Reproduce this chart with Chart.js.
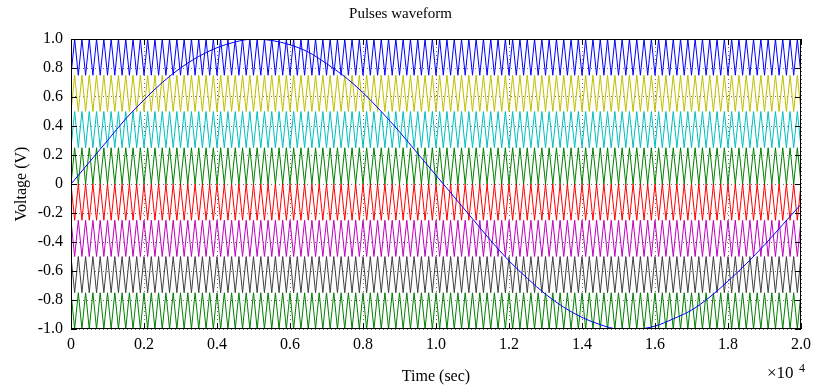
<!DOCTYPE html>
<html>
<head>
<meta charset="utf-8">
<script src="https://cdn.jsdelivr.net/npm/chart.js@4.4.0/dist/chart.umd.min.js"></script>
<style>
  html,body{margin:0;padding:0;background:#fff;}
  #grafico{display:block;}
</style>
</head>
<body>
<canvas id="grafico" width="813" height="388"></canvas>
<script>
// tiempos de la señal de referencia (muestras) y su valor
const sineTimes=[0,500,1000,1500,2000,2500,3000,3500,4000,4500,
  5000,5500,6000,6500,7000,7500,8000,8500,9000,9500,
  10000,10500,11000,11500,12000,12500,13000,13500,14000,14500,
  15000,15500,16000,16500,17000,17500,18000,18500,19000,19500,20000];
const sineValues=[0,0.15,0.30,0.45,0.58,0.70,0.80,0.88,0.94,0.98,
  1.00,0.99,0.96,0.91,0.83,0.74,0.63,0.50,0.36,0.21,
  0.06,-0.09,-0.24,-0.39,-0.53,-0.65,-0.76,-0.85,-0.92,-0.97,
  -1.00,-1.00,-0.98,-0.93,-0.87,-0.78,-0.67,-0.55,-0.42,-0.28,-0.14];

// vertices de las portadoras triangulares
const carrierTimes=[0,100,200,300,400,500,600,700,800,900,
  1000,1100,1200,1300,1400,1500,1600,1700,1800,1900,
  2000,2100,2200,2300,2400,2500,2600,2700,2800,2900,
  3000,3100,3200,3300,3400,3500,3600,3700,3800,3900,
  4000,4100,4200,4300,4400,4500,4600,4700,4800,4900,
  5000,5100,5200,5300,5400,5500,5600,5700,5800,5900,
  6000,6100,6200,6300,6400,6500,6600,6700,6800,6900,
  7000,7100,7200,7300,7400,7500,7600,7700,7800,7900,
  8000,8100,8200,8300,8400,8500,8600,8700,8800,8900,
  9000,9100,9200,9300,9400,9500,9600,9700,9800,9900,
  10000,10100,10200,10300,10400,10500,10600,10700,10800,10900,
  11000,11100,11200,11300,11400,11500,11600,11700,11800,11900,
  12000,12100,12200,12300,12400,12500,12600,12700,12800,12900,
  13000,13100,13200,13300,13400,13500,13600,13700,13800,13900,
  14000,14100,14200,14300,14400,14500,14600,14700,14800,14900,
  15000,15100,15200,15300,15400,15500,15600,15700,15800,15900,
  16000,16100,16200,16300,16400,16500,16600,16700,16800,16900,
  17000,17100,17200,17300,17400,17500,17600,17700,17800,17900,
  18000,18100,18200,18300,18400,18500,18600,18700,18800,18900,
  19000,19100,19200,19300,19400,19500,19600,19700,19800,19900,20000];

const bandHigh=[1,0.75,0.5,0.25,0,-0.25,-0.5,-0.75];
const bandLow=[0.75,0.5,0.25,0,-0.25,-0.5,-0.75,-1];
const bandStartsHigh=[false,false,false,false,true,true,true,true];
const bandColors=[
  "rgb(0,0,255)",
  "rgb(191,191,0)",
  "rgb(0,191,191)",
  "rgb(0,128,0)",
  "rgb(255,0,0)",
  "rgb(191,0,191)",
  "rgb(64,64,64)",
  "rgb(0,128,0)"
];

const xTickStep=2000;
const yTickStep=0.2;

function etiqueta(v){
  if(Math.abs(v)<1e-9) return "0";
  return v.toFixed(1);
}

const datasets=[{
  label:"referencia",
  data:sineTimes.map((t,i)=>({x:t,y:sineValues[i]})),
  borderColor:"rgb(0,0,255)",
  borderWidth:1,
  pointRadius:0,
  fill:false,
  cubicInterpolationMode:"monotone",
  order:0
}];

for(let b=0;b<bandHigh.length;b++){
  datasets.push({
    label:"portadora "+(b+1),
    data:carrierTimes.map((t,i)=>{
      const alto=bandStartsHigh[b]?(i%2===0):(i%2===1);
      return {x:t,y:alto?bandHigh[b]:bandLow[b]};
    }),
    borderColor:bandColors[b],
    borderWidth:1,
    pointRadius:0,
    fill:false,
    tension:0,
    order:1
  });
}

const fuente="'Liberation Serif','Times New Roman',serif";

// marco, marcas interiores y el multiplicador x10^4
const marco={
  id:"marco",
  afterDraw(chart){
    const ctx=chart.ctx;
    const a=chart.chartArea;
    const xs=chart.scales.x, ys=chart.scales.y;
    ctx.save();
    ctx.strokeStyle="#000";
    ctx.lineWidth=1;
    ctx.strokeRect(Math.round(a.left)+0.5,Math.round(a.top)+0.5,Math.round(a.right-a.left)-1,Math.round(a.bottom-a.top)-1);
    ctx.beginPath();
    xs.ticks.forEach(t=>{
      const px=Math.round(xs.getPixelForValue(t.value))+0.5;
      ctx.moveTo(px,a.bottom);ctx.lineTo(px,a.bottom-6);
      ctx.moveTo(px,a.top);ctx.lineTo(px,a.top+6);
    });
    ys.ticks.forEach(t=>{
      const py=Math.round(ys.getPixelForValue(t.value))+0.5;
      ctx.moveTo(a.left,py);ctx.lineTo(a.left+6,py);
      ctx.moveTo(a.right,py);ctx.lineTo(a.right-6,py);
    });
    ctx.stroke();
    ctx.fillStyle="#000";
    ctx.textBaseline="alphabetic";
    ctx.textAlign="left";
    ctx.font="17px "+fuente;
    ctx.fillText("\u00d710",767,378);
    ctx.font="12px "+fuente;
    ctx.fillText("4",799,372);
    ctx.restore();
  }
};

new Chart("grafico",{
  type:"line",
  data:{datasets:datasets},
  options:{
    responsive:false,
    animation:false,
    events:[],
    layout:{padding:{left:0,right:12,top:0,bottom:0}},
    plugins:{
      legend:{display:false},
      tooltip:{enabled:false},
      title:{
        display:true,
        text:"Pulses waveform",
        color:"#000",
        font:{family:fuente,size:15,weight:"normal"},
        padding:{top:5,bottom:16}
      }
    },
    scales:{
      x:{
        type:"linear",
        min:0,max:20000,
        afterFit(s){s.height=59;s.paddingLeft=0;s.paddingRight=0;},
        ticks:{stepSize:xTickStep,color:"#000",padding:6,maxRotation:0,
          font:{family:fuente,size:16},
          callback:v=>etiqueta(v/1e4)},
        grid:{color:"rgba(0,0,0,0.55)",drawTicks:false,lineWidth:1},
        border:{display:false,dash:[1,3]},
        title:{display:true,text:"Time (sec)",color:"#000",
          font:{family:fuente,size:16},padding:{top:0,bottom:2}}
      },
      y:{
        min:-1,max:1,
        afterFit(s){s.width=71;s.paddingTop=0;s.paddingBottom=0;},
        ticks:{stepSize:yTickStep,color:"#000",padding:8,
          font:{family:fuente,size:16},
          callback:v=>etiqueta(v)},
        grid:{color:"rgba(0,0,0,0.55)",drawTicks:false,lineWidth:1},
        border:{display:false,dash:[1,3]},
        title:{display:true,text:"Voltage (V)",color:"#000",
          font:{family:fuente,size:16},padding:{top:12,bottom:0}}
      }
    }
  },
  plugins:[marco]
});
</script>
</body>
</html>
